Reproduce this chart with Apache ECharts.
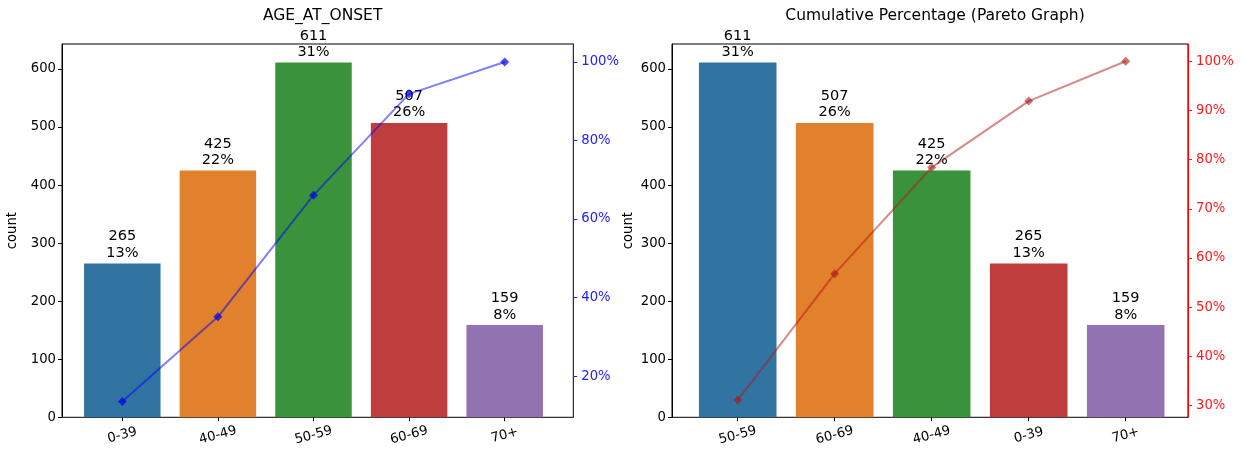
<!DOCTYPE html>
<html>
<head>
<meta charset="utf-8">
<script src="https://cdn.jsdelivr.net/npm/echarts@6/dist/echarts.min.js"></script>
<style>
html,body{margin:0;padding:0;background:#fff;}
#chart{width:1241px;height:452px;}
</style>
</head>
<body>
<div id="chart"></div>
<script>
// ---- data ----
const leftTitle = 'AGE_AT_ONSET';
const rightTitle = 'Cumulative Percentage (Pareto Graph)';
const leftCategories = ['0-39', '40-49', '50-59', '60-69', '70+'];
const leftCounts = [265, 425, 611, 507, 159];
const leftShares = ['13%', '22%', '31%', '26%', '8%'];
const leftCumPct = [13.5, 35.1, 66.1, 91.9, 100];
const rightCategories = ['50-59', '60-69', '40-49', '0-39', '70+'];
const rightCounts = [611, 507, 425, 265, 159];
const rightShares = ['31%', '26%', '22%', '13%', '8%'];
const rightCumPct = [31.1, 56.8, 78.4, 91.9, 100];
const countTicks = [0, 100, 200, 300, 400, 500, 600];
const leftPctTicks = [20, 40, 60, 80, 100];
const rightPctTicks = [30, 40, 50, 60, 70, 80, 90, 100];
const yLabel = 'count';

// ---- styles ----
const palette = ['#3274a1', '#e1812c', '#3a923a', '#c03d3e', '#9372b2'];
const FONT = 'DejaVu Sans';
const TICK_FS = 13.2;
const countMax = 643;
const leftPctRange = [9.5, 104.6];
const rightPctRange = [27.6, 103.5];

const frameTop = 44, frameH = 373.3;
const L = {frameLeft: 62, frameW: 511.3, innerLeft: 74.5, innerW: 478};
const R = {frameLeft: 672, frameW: 516, innerLeft: 689.2, innerW: 485};

function grids(g) {
  return [
    {left: g.frameLeft, top: frameTop, width: g.frameW, height: frameH, show: true,
     borderColor: '#000', borderWidth: 1, backgroundColor: 'transparent'},
    {left: g.innerLeft, top: frameTop, width: g.innerW, height: frameH, show: false}
  ];
}

function countAxis(gridIndex, visible, gap) {
  return {
    type: 'value', gridIndex: gridIndex, min: 0, max: countMax, show: visible,
    position: 'left',
    name: visible ? yLabel : '', nameLocation: 'middle', nameGap: gap,
    nameTextStyle: {fontFamily: FONT, fontSize: TICK_FS, color: '#000'},
    axisLine: {show: true, lineStyle: {color: '#000', width: 1}},
    axisTick: {show: true, length: 4, lineStyle: {color: '#000'}, customValues: countTicks},
    axisLabel: {show: true, fontFamily: FONT, fontSize: TICK_FS, color: '#000', margin: 6,
                customValues: countTicks},
    splitLine: {show: false}
  };
}

function pctAxis(gridIndex, visible, range, ticks, lineColor, labelColor) {
  return {
    type: 'value', gridIndex: gridIndex, min: range[0], max: range[1], show: visible,
    position: 'right',
    axisLine: {show: true, lineStyle: {color: lineColor, width: 1}},
    axisTick: {show: true, length: 4, lineStyle: {color: labelColor}, customValues: ticks},
    axisLabel: {show: true, fontFamily: FONT, fontSize: TICK_FS, color: labelColor, margin: 8,
                customValues: ticks, formatter: v => v + '%'},
    splitLine: {show: false}
  };
}

function catAxis(gridIndex, cats) {
  return {
    type: 'category', gridIndex: gridIndex, data: cats, position: 'bottom',
    axisLine: {show: false},
    axisTick: {show: true, alignWithLabel: true, length: 4, lineStyle: {color: '#000'}},
    axisLabel: {fontFamily: FONT, fontSize: TICK_FS, color: '#000', rotate: 15,
                align: 'center', verticalAlign: 'middle', margin: 18, interval: 0}
  };
}

function hiddenX(gridIndex) {
  return {type: 'value', gridIndex: gridIndex, min: 0, max: 1, show: false};
}

function barSeries(xi, yi, counts, shares) {
  return {
    type: 'bar', xAxisIndex: xi, yAxisIndex: yi, barWidth: '80%', z: 2,
    data: counts.map((v, i) => ({value: v, itemStyle: {color: palette[i]}})),
    label: {
      show: true, position: 'top', distance: 2,
      fontFamily: FONT, fontSize: 14.5, lineHeight: 16.5, color: '#000',
      formatter: p => counts[p.dataIndex] + '\n' + shares[p.dataIndex]
    }
  };
}

function lineSeries(xi, yi, vals, lineColor, markerColor) {
  return {
    type: 'line', xAxisIndex: xi, yAxisIndex: yi, data: vals, z: 10,
    symbol: 'diamond', symbolSize: 9,
    lineStyle: {color: lineColor, width: 2},
    itemStyle: {color: markerColor, borderWidth: 0},
    label: {show: false}
  };
}

const option = {
  animation: false,
  backgroundColor: '#fff',
  title: [
    {text: leftTitle, left: L.frameLeft + L.frameW / 2, top: 3, textAlign: 'center',
     textStyle: {fontFamily: FONT, fontSize: 15.5, fontWeight: 'normal', color: '#000'}},
    {text: rightTitle, left: R.frameLeft + R.frameW / 2, top: 3, textAlign: 'center',
     textStyle: {fontFamily: FONT, fontSize: 15.5, fontWeight: 'normal', color: '#000'}}
  ],
  grid: grids(L).concat(grids(R)),
  xAxis: [hiddenX(0), catAxis(1, leftCategories), hiddenX(2), catAxis(3, rightCategories)],
  yAxis: [
    countAxis(0, true, 43),
    pctAxis(0, true, leftPctRange, leftPctTicks, '#a00000', '#2020ff'),
    countAxis(1, false, 0),
    pctAxis(1, false, leftPctRange, leftPctTicks, '#000', '#000'),
    countAxis(2, true, 37),
    pctAxis(2, true, rightPctRange, rightPctTicks, '#ff0000', '#ff1a1a'),
    countAxis(3, false, 0),
    pctAxis(3, false, rightPctRange, rightPctTicks, '#000', '#000')
  ],
  series: [
    barSeries(1, 2, leftCounts, leftShares),
    lineSeries(1, 3, leftCumPct, 'rgba(0,0,255,0.5)', 'rgba(0,0,230,0.7)'),
    barSeries(3, 6, rightCounts, rightShares),
    lineSeries(3, 7, rightCumPct, 'rgba(180,20,20,0.5)', 'rgba(170,20,20,0.6)')
  ]
};

const chart = echarts.init(document.getElementById('chart'), null, {renderer: 'canvas'});
chart.setOption(option);
</script>
</body>
</html>
